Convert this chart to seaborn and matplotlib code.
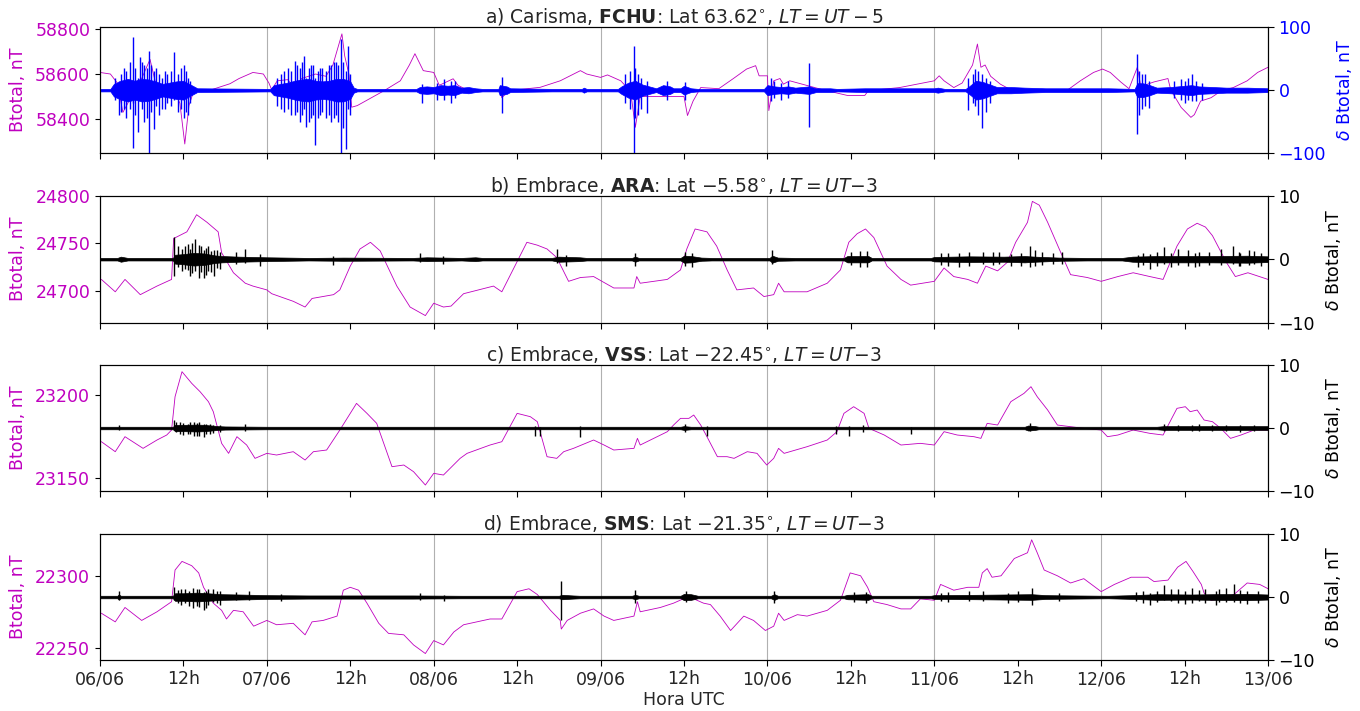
import numpy as np
import pandas as pd
import matplotlib
matplotlib.use("Agg")
import matplotlib.pyplot as plt
import matplotlib.dates as mdates
from matplotlib.ticker import FuncFormatter
import seaborn as sns

# ---------------- data (hours since 06/06 00:00 UTC) ----------------
fchu_h = [0, 1.5, 2.5, 3.3, 4, 5, 6, 7.2, 8, 9, 10.5, 11.5, 12.2, 12.8, 13.5, 16, 18.7, 20, 22, 23.5,
          24.3, 24.7, 25.5, 27, 28, 29, 31, 32.5, 33.5, 34.8, 35.2, 35.8, 36.2, 37, 40.8, 43.2, 44.5,
          45.3, 46.5, 48, 48.8, 50.8, 51.5, 53, 57.5, 57.8, 58.8, 63.3, 66.2, 69.1, 70, 72, 73, 74.9,
          75.8, 76.5, 77, 77.7, 81.6, 84, 84.5, 85.3, 86.4, 89, 91.1, 93, 94.3, 94.8, 96, 96.2, 96.9,
          97.8, 98.3, 99.2, 104, 107.5, 110, 110.5, 115, 120, 120.7, 121.4, 122.8, 124, 125.5, 126.2,
          126.7, 127.3, 128.1, 129.5, 131, 139.2, 141, 142.9, 144.2, 145.3, 146.8, 148, 149.2, 149.7,
          151.6, 153.6, 154, 155.5, 156.9, 157.4, 158.3, 159.8, 161.3, 163, 165, 166.5, 168]
fchu_bt = [58607, 58600, 58560, 58430, 58470, 58560, 58580, 58665, 58560, 58520, 58540, 58470, 58290,
           58460, 58526, 58530, 58557, 58580, 58607, 58600, 58560, 58530, 58570, 58575, 58540, 58580,
           58600, 58590, 58640, 58778, 58680, 58600, 58453, 58460, 58525, 58570, 58640, 58690, 58615,
           58607, 58550, 58579, 58550, 58526, 58526, 58495, 58526, 58541, 58570, 58615, 58600, 58585,
           58596, 58570, 58540, 58482, 58364, 58500, 58500, 58500, 58416, 58480, 58540, 58535, 58580,
           58622, 58637, 58592, 58592, 58438, 58570, 58580, 58555, 58570, 58530, 58505, 58505, 58526,
           58540, 58570, 58592, 58570, 58540, 58560, 58640, 58733, 58630, 58640, 58590, 58555, 58530,
           58530, 58570, 58607, 58622, 58607, 58565, 58535, 58630, 58545, 58565, 58580, 58530, 58452,
           58408, 58420, 58480, 58495, 58526, 58540, 58570, 58607, 58630]

ara_h = [0.2, 2.2, 3.6, 5.8, 8.2, 10.3, 10.6, 12.5, 13.9, 15.4, 17, 17.5, 19.2, 20.9, 22, 24, 24.7,
         27.8, 29.5, 30.5, 33.6, 34.5, 36, 37.4, 38.9, 40.3, 42.7, 44.6, 46.8, 48, 49.4, 50.5, 52.3,
         56.6, 57.8, 61.4, 62.9, 64.3, 65.7, 67.4, 69.1, 71, 72.2, 73.9, 76.8, 77.2, 77.7, 81.6, 83.5,
         84.4, 85.6, 87.3, 88.7, 90.2, 91.6, 94, 95.5, 96.9, 97.6, 98.4, 101.7, 104.6, 106.5, 107.7,
         108.9, 110.1, 111.3, 113.2, 115.2, 116.6, 120, 121.4, 122.8, 124.8, 126.2, 127.4, 129.1,
         130.5, 131.7, 133.4, 134.1, 135.1, 136.3, 138.2, 139.6, 142, 144, 146.4, 148.6, 151, 152.9,
         154.9, 156.4, 157.8, 159, 160, 162, 163.3, 165.1, 168]
ara_bt = [24712, 24699, 24712, 24696, 24705, 24712, 24755, 24762, 24780, 24772, 24762, 24740, 24719,
          24708, 24705, 24701, 24697, 24689, 24683, 24692, 24696, 24701, 24726, 24744, 24751, 24742,
          24705, 24683, 24674, 24687, 24683, 24684, 24697, 24705, 24699, 24751, 24748, 24744, 24735,
          24710, 24714, 24715, 24710, 24703, 24703, 24715, 24708, 24712, 24722, 24744, 24765, 24762,
          24747, 24722, 24701, 24703, 24694, 24696, 24708, 24699, 24699, 24708, 24722, 24751, 24760,
          24765, 24756, 24726, 24712, 24706, 24710, 24724, 24715, 24712, 24708, 24726, 24721, 24730,
          24751, 24772, 24794, 24790, 24772, 24740, 24717, 24714, 24710, 24715, 24719, 24715, 24712,
          24747, 24765, 24771, 24767, 24758, 24730, 24715, 24719, 24712]

vss_h = [0.2, 2.2, 3.6, 6.2, 8.2, 9.6, 10.3, 10.8, 11.8, 13.2, 14.4, 15.6, 16.3, 17.5, 18.5, 19.7,
         21.1, 22.3, 24, 25.4, 27.8, 29.5, 30.7, 32.6, 34.5, 36.9, 38.4, 39.8, 42, 43.7, 45.1, 46.8,
         48, 49.4, 51.8, 52.8, 56.1, 57.8, 60, 61.9, 62.9, 64.3, 65.7, 66.7, 68.1, 71, 72.5, 73.9,
         76.8, 77.3, 77.7, 81.6, 82.5, 83.5, 84.7, 85.4, 86.4, 87.3, 88.8, 90.2, 91.2, 93.1, 94.5,
         95.9, 96.9, 97.6, 98.4, 101.7, 104.6, 106, 107, 108.4, 109.9, 110.6, 112.8, 115.2, 118, 120,
         121.4, 123.3, 125.7, 126.7, 127.6, 129.1, 131, 132.9, 133.9, 134.8, 136.3, 137.7, 141.5, 144,
         144.9, 146.4, 148.6, 151, 152.9, 154.9, 156.1, 156.8, 157.8, 158.8, 160, 161.2, 162.6, 164.1,
         166, 168]
vss_bt = [23172, 23166, 23175, 23168, 23173, 23176, 23179, 23199, 23214, 23207, 23202, 23196, 23190,
          23171, 23165, 23175, 23170, 23162, 23165, 23164, 23166, 23161, 23166, 23167, 23179, 23195,
          23189, 23183, 23157, 23158, 23154, 23146, 23153, 23152, 23162, 23165, 23170, 23172, 23189,
          23187, 23184, 23163, 23162, 23166, 23168, 23173, 23170, 23167, 23168, 23174, 23170, 23178,
          23182, 23186, 23186, 23188, 23182, 23175, 23163, 23163, 23162, 23166, 23165, 23158, 23162,
          23168, 23165, 23169, 23173, 23178, 23189, 23193, 23189, 23180, 23176, 23170, 23171, 23170,
          23178, 23176, 23175, 23174, 23183, 23182, 23196, 23201, 23205, 23199, 23191, 23182, 23180,
          23179, 23175, 23176, 23179, 23177, 23176, 23192, 23193, 23190, 23191, 23185, 23184, 23180,
          23174, 23176, 23179, 23179]

sms_h = [0.2, 2.2, 3.6, 6, 8.2, 10.3, 10.8, 11.8, 13.2, 14.2, 14.9, 16.3, 17.5, 18.2, 19.2, 20.6,
         22.1, 24, 25.4, 27.8, 29.5, 30.5, 32.1, 34.1, 35, 36, 37.2, 38.4, 40.1, 41.5, 43.7, 45.1,
         46.8, 48, 49.4, 50.9, 52.3, 56.1, 57.8, 60, 61.7, 62.9, 64.8, 66.2, 66.35, 67.2, 69.1, 71,
         72.5, 73.9, 76.8, 77.3, 77.7, 80.6, 82.5, 83.9, 85.4, 86.8, 87.8, 89.2, 90.7, 92.6, 94, 95.7,
         96.9, 97.6, 98.4, 100.3, 101.7, 104.6, 106.5, 107.9, 109.4, 110.4, 111.3, 113.2, 115.2,
         116.6, 118, 120, 120.9, 122.8, 124.8, 126.4, 126.9, 127.6, 128.3, 129.6, 131.5, 133.4, 134,
         134.8, 135.8, 137.7, 139.6, 141.5, 144, 145.9, 148.3, 150.7, 151.6, 153.6, 155, 156.2, 157.2,
         158.4, 158.8, 159.8, 161.2, 163.1, 165, 166.8, 168]
sms_bt = [22274, 22268, 22278, 22269, 22275, 22282, 22304, 22310, 22307, 22302, 22292, 22281, 22276,
          22270, 22276, 22275, 22265, 22269, 22266, 22267, 22259, 22268, 22269, 22272, 22290, 22292,
          22290, 22281, 22267, 22260, 22259, 22252, 22246, 22255, 22252, 22261, 22266, 22270, 22270,
          22289, 22291, 22287, 22276, 22269, 22263, 22269, 22274, 22277, 22272, 22269, 22272, 22282,
          22275, 22278, 22281, 22284, 22284, 22281, 22280, 22272, 22262, 22272, 22269, 22262, 22265,
          22274, 22269, 22273, 22272, 22276, 22283, 22302, 22300, 22292, 22282, 22280, 22277, 22277,
          22284, 22283, 22294, 22290, 22292, 22292, 22302, 22305, 22299, 22300, 22312, 22316, 22325,
          22316, 22304, 22300, 22295, 22298, 22289, 22294, 22299, 22299, 22296, 22297, 22306, 22310,
          22303, 22294, 22288, 22283, 22284, 22287, 22295, 22294, 22291]

# delta-Btotal: amplitude envelope (hours, nT) and individual spikes (hour, max, min)
fchu_env_h = [0, 1.5, 2, 3, 4, 5, 6, 7, 8, 9, 10, 11, 12, 13, 14, 24.5, 25, 26, 27, 28, 29, 30, 31, 32,
              33, 34, 35, 36, 36.5, 37, 45.5, 46, 47, 48, 49, 50, 51, 52, 53, 54, 55, 57.3, 57.5, 58.5,
              59, 65, 69.3, 69.6, 70, 74.5, 75, 76, 77, 78, 79, 80, 81, 82, 82.5, 83.5, 84, 85, 86,
              95.5, 96, 97, 98, 99, 100, 101, 102, 103, 105, 106, 110, 120, 120.5, 121.5, 124.5, 125,
              126, 127, 128, 129, 131, 133, 136, 142, 145, 148.8, 149.2, 150, 151, 152, 154, 155, 157,
              158, 160, 162, 165, 168]
fchu_env = [2, 2, 10, 15, 18, 15, 18, 17, 14, 10, 12, 14, 15, 9, 3,
            2, 8, 10, 12, 15, 17, 18, 15, 14, 15, 18, 18, 14, 4, 2,
            2, 5, 6, 5, 8, 7, 8, 4, 5, 3, 2,
            2, 8, 6, 3, 2,
            2, 4, 2,
            2, 6, 12, 15, 9, 6, 3, 8, 6, 3, 3, 7, 3, 2,
            2, 8, 6, 5, 6, 4, 5, 6, 3, 3, 2, 3,
            3, 4, 2,
            2, 6, 15, 13, 9, 5, 5, 4, 3, 3, 3,
            2, 11, 11, 8, 4, 5, 6, 8, 6, 5, 4, 4, 3]
fchu_sp_h = [2.2, 2.8, 3.0, 3.5, 3.8, 4.3, 4.7, 4.8, 5.0, 5.5, 5.7, 6.0, 6.3, 6.7, 7.0, 7.1, 7.4, 7.8,
             8.1, 8.5, 8.9, 9.3, 9.7, 10.2, 10.6, 11.2, 11.7, 12.1, 12.4, 12.6, 13.0,
             25.5, 26.0, 26.5, 27.0, 27.5, 28.1, 28.4, 28.7, 29.0, 29.4, 29.6, 30.0, 30.3, 30.6, 30.9,
             31.3, 31.6, 32.0, 32.5, 32.9, 33.3, 33.6, 34.0, 34.3, 34.6, 35.0, 35.4, 35.7, 36.0,
             46.3, 48.5, 49.5, 50.5, 51.0, 57.8, 75.5, 76.2, 76.8, 77.0, 77.4, 77.8, 78.7, 81.6, 84.2,
             96.5, 97.0, 98.0, 99.0, 102, 124.8, 125.5, 125.9, 126.3, 126.9, 127.5, 128.0, 149.2,
             149.5, 149.8, 150.3, 150.9, 154.5, 155.5, 156.0, 156.5, 157.1, 157.7, 158.5]
fchu_sp_hi = [20, 15, 25, 35, 30, 45, 10, 84, 35, 20, 52, 45, 40, 35, 63, 10, 40, 30,
              35, 25, 20, 30, 25, 30, 60, 25, 35, 40, 30, 20, 15,
              20, 25, 30, 35, 30, 47, 40, 35, 45, 55, 20, 35, 40, 40, 20,
              30, 35, 35, 30, 40, 40, 45, 45, 40, 82, 45, 30, 70, 25,
              10, 12, 18, 15, 15, 21, 25, 30, 71, 35, 25, 20, 15, 15, 13,
              20, 15, 12, 14, 43, 19, 25, 33, 30, 25, 20, 15, 58,
              30, 25, 25, 15, 15, 18, 15, 20, 26, 15, 12]
fchu_sp_lo = [-15, -40, -35, -30, -45, -30, -92, -20, -40, -66, -10, -30, -50, -45, -10, -100, -35, -62,
              -25, -40, -30, -30, -20, -25, -15, -35, -30, -45, -35, -40, -20,
              -25, -30, -35, -30, -40, -40, -35, -50, -40, -30, -58, -50, -45, -40, -87,
              -45, -40, -35, -45, -40, -50, -45, -40, -50, -100, -60, -93, -30, -40,
              -21, -15, -15, -20, -12, -37, -20, -30, -100, -45, -40, -30, -37, -15, -15,
              -18, -12, -15, -12, -58, -32, -20, -26, -40, -61, -35, -20, -69,
              -40, -30, -25, -28, -12, -15, -20, -15, -17, -18, -15]

ara_env_h = [0, 2.5, 3, 4, 10.5, 10.8, 12, 13.5, 15, 16.5, 17.5, 20, 24, 27, 30, 35, 45, 47, 52, 54,
             55, 65, 66, 69, 70, 76.5, 77, 77.5, 83.5, 84, 85, 86.5, 88, 96.3, 96.7, 97.5, 100, 107,
             107.5, 110.5, 111, 119.5, 120, 125, 130, 133, 134.5, 138, 142, 147, 148.5, 152, 160, 165,
             168]
ara_env = [0.2, 0.2, 0.4, 0.2, 0.2, 0.7, 0.8, 1.0, 0.9, 0.6, 0.5, 0.4, 0.3, 0.25, 0.2, 0.25, 0.2, 0.3,
           0.2, 0.3, 0.2, 0.2, 0.4, 0.3, 0.2, 0.2, 0.4, 0.2, 0.2, 0.55, 0.5, 0.25, 0.2, 0.2, 0.55,
           0.25, 0.2, 0.2, 0.5, 0.5, 0.2, 0.2, 0.35, 0.45, 0.4, 0.5, 0.4, 0.25, 0.2, 0.2, 0.4, 0.5,
           0.5, 0.55, 0.45]
ara_sp_h = [10.6, 11.2, 11.8, 12.2, 12.6, 13.0, 13.3, 13.7, 14.2, 14.5, 14.9, 15.2, 15.6, 15.9, 16.4,
            16.8, 17.2, 19.5, 20.9, 23, 33.5, 46, 49.4, 65.7, 67, 76.9, 84.2, 85.2, 96.7, 108, 109.3,
            110.3, 121, 122, 123.5, 125, 127, 128.5, 129.3, 131, 132.5, 133.8, 134.5, 135.5, 137,
            138.3, 149.3, 150, 151, 152, 153, 154, 155, 156.5, 157.5, 158, 159.5, 161.2, 162.9,
            163.8, 164, 165.2, 166, 167]
ara_sp_hi = [3.5, 2.0, 1.6, 2.0, 2.4, 1.6, 2.5, 3.2, 2.2, 2.0, 1.5, 1.8, 2.1, 1.3, 1.5,
             1.4, 1.2, 1.2, 1.6, 0.8, 0.5, 1.0, 0.5, 1.6, 0.7, 1.0, 1.2, 1.0, 1.4, 1.2, 1.3,
             1.3, 1.0, 1.0, 0.9, 1.2, 1.1, 1.2, 1.1, 0.8, 1.0, 2.1, 1.5, 1.1, 0.9,
             1.1, 0.7, 1.0, 0.8, 1.2, 1.9, 1.0, 1.6, 1.4, 1.0, 1.2, 1.1, 1.6, 2.1,
             1.2, 1.0, 1.5, 1.3, 1.0]
ara_sp_lo = [-2.7, -1.2, -1.9, -1.5, -1.7, -2.6, -2.2, -1.8, -2.9, -2.0, -2.9, -2.5, -1.8, -2.0, -2.7,
             -1.4, -1.5, -0.8, -0.6, -1.0, -0.9, -0.5, -0.8, -0.6, -1.0, -1.1, -1.0, -1.2, -0.8, -0.9,
             -1.3, -1.2, -0.9, -1.1, -1.2, -1.0, -0.8, -0.9, -0.7, -1.0, -1.1, -1.3, -1.0, -0.9, -0.7,
             -0.8, -1.2, -0.9, -1.6, -1.0, -0.8, -1.3, -0.9, -1.0, -1.2, -1.0, -0.9, -0.9, -0.7,
             -1.0, -1.1, -0.9, -0.8, -1.0]

vss_env_h = [0, 10.5, 10.8, 12, 14, 15, 17, 18, 24, 83.5, 84, 85, 133, 133.5, 134.5, 135, 152, 153,
             168]
vss_env = [0.2, 0.2, 0.5, 0.5, 0.55, 0.5, 0.3, 0.25, 0.2, 0.2, 0.3, 0.2, 0.2, 0.4, 0.3, 0.2, 0.2, 0.3,
           0.3]
vss_sp_h = [2.7, 10.6, 11.0, 11.5, 12.0, 12.6, 13.0, 13.5, 14.0, 14.3, 14.9, 15.3, 15.8, 16.3, 17.2,
            20.9, 62.6, 63.3, 69.1, 84.2, 87.3, 105.8, 107.7, 109.8, 116.6, 133.8, 153, 155, 157,
            158, 160, 162, 164, 166]
vss_sp_hi = [0.5, 1.3, 1.0, 0.9, 0.8, 0.7, 1.0, 0.9, 0.8, 1.0, 0.6, 0.7, 0.6, 0.5, 0.5,
             0.6, 0.3, 0.2, 0.3, 0.6, 0.3, 0.3, 0.3, 0.5, 0.2, 0.8, 0.6, 0.5, 0.5,
             0.6, 0.5, 0.5, 0.5, 0.5]
vss_sp_lo = [-0.3, -0.3, -0.6, -0.9, -1.1, -1.0, -0.9, -1.3, -1.2, -1.2, -1.5, -1.0, -1.0, -0.8, -0.7,
             -0.4, -1.2, -1.3, -1.4, -0.6, -1.2, -1.0, -1.2, -0.6, -1.0, -0.5, -0.4, -0.5, -0.4,
             -0.5, -0.5, -0.5, -0.6, -0.5]

sms_env_h = [0, 2.5, 2.7, 3, 10.5, 10.8, 12, 14, 15.5, 17.5, 20, 24, 30, 45, 52, 66, 66.5, 68, 69,
             76.5, 77, 77.5, 83.5, 84, 85, 86, 96.5, 97, 97.5, 107, 107.5, 110.5, 111, 119.5, 120,
             126, 134, 136, 140, 145, 148.5, 152, 157, 160, 165, 168]
sms_env = [0.2, 0.2, 0.4, 0.2, 0.2, 0.6, 0.6, 0.7, 0.6, 0.45, 0.4, 0.3, 0.25, 0.25, 0.2, 0.2, 0.35,
           0.25, 0.2, 0.2, 0.35, 0.2, 0.2, 0.5, 0.45, 0.2, 0.2, 0.45, 0.2, 0.2, 0.35, 0.45, 0.2, 0.2,
           0.3, 0.35, 0.45, 0.3, 0.25, 0.2, 0.3, 0.45, 0.4, 0.45, 0.5, 0.4]
sms_sp_h = [2.7, 10.6, 11.2, 11.7, 12.2, 12.8, 13.4, 13.9, 14.3, 14.9, 15.2, 15.6, 16.3, 16.8, 17.3,
            19.5, 21.5, 26, 46, 49.5, 66.3, 76.9, 84.3, 96.9, 108.5, 110.2, 121, 122, 125, 127,
            130.6, 132, 134, 138, 149, 150, 151, 152, 153, 154, 155, 156, 157, 158, 159, 160.5, 161,
            162, 163.1, 164, 165, 166.5]
sms_sp_hi = [0.9, 1.6, 1.1, 1.2, 1.3, 1.0, 1.5, 1.2, 1.3, 0.8, 1.0, 1.2, 1.2, 0.9, 1.0,
             0.8, 0.9, 0.5, 0.6, 0.4, 2.6, 1.1, 0.9, 0.9, 0.8, 0.8, 0.7, 0.8, 0.9, 0.9,
             0.7, 1.0, 1.4, 0.6, 0.8, 0.9, 0.6, 1.0, 1.9, 1.3, 1.2, 1.0, 1.5, 1.1, 1.2, 1.0, 1.3,
             1.4, 2.0, 1.1, 1.0, 1.0]
sms_sp_lo = [-0.5, -0.5, -0.9, -1.2, -1.0, -1.5, -1.8, -1.5, -1.6, -2.1, -1.8, -1.3, -0.8, -1.0, -1.2,
             -0.5, -0.4, -0.7, -0.4, -0.7, -3.7, -0.9, -0.8, -0.9, -0.8, -1.0, -0.6, -0.8, -0.7, -0.7,
             -0.9, -0.8, -1.3, -0.7, -0.7, -0.9, -1.3, -0.8, -0.5, -0.7, -0.9, -1.1, -1.0, -0.7, -0.9,
             -1.2, -0.8, -0.8, -0.8, -0.9, -1.1, -1.0]

titles = [r"a) Carisma, $\bf{FCHU}$: Lat 63.62$^{\circ}$, $LT=UT-5$",
          r"b) Embrace, $\bf{ARA}$: Lat $-5.58^{\circ}$, $LT=UT$$-3$",
          r"c) Embrace, $\bf{VSS}$: Lat $-22.45^{\circ}$, $LT=UT$$-3$",
          r"d) Embrace, $\bf{SMS}$: Lat $-21.35^{\circ}$, $LT=UT$$-3$"]
left_ticks = [[58400, 58600, 58800], [24700, 24750, 24800], [23150, 23200], [22250, 22300]]
left_lims = [(58250, 58807), (24666.5, 24800), (23142.4, 23218), (22241.5, 22329)]
right_ticks = [[-100, 0, 100], [-10, 0, 10], [-10, 0, 10], [-10, 0, 10]]
right_lims = [(-100, 100), (-10, 10), (-10, 10), (-10, 10)]

# ---------------- plotting ----------------
sns.set_style("ticks")
plt.rcParams["font.family"] = ["DejaVu Sans"]
plt.rcParams["mathtext.fontset"] = "dejavusans"

base = pd.Timestamp("2023-06-06")


def to_time(hours):
    return base + pd.to_timedelta(np.asarray(hours, dtype=float), unit="h")


fig = plt.figure(figsize=(13.6, 7.11), dpi=100)
rects = [[0.0735, 0.7848, 0.8589, 0.1768],
         [0.0735, 0.5461, 0.8589, 0.1787],
         [0.0735, 0.3094, 0.8589, 0.1772],
         [0.0735, 0.0717, 0.8589, 0.1772]]

mag = "m"
series = [
    (fchu_h, fchu_bt, fchu_env_h, fchu_env, fchu_sp_h, fchu_sp_hi, fchu_sp_lo, "#0000ff"),
    (ara_h, ara_bt, ara_env_h, ara_env, ara_sp_h, ara_sp_hi, ara_sp_lo, "black"),
    (vss_h, vss_bt, vss_env_h, vss_env, vss_sp_h, vss_sp_hi, vss_sp_lo, "black"),
    (sms_h, sms_bt, sms_env_h, sms_env, sms_sp_h, sms_sp_hi, sms_sp_lo, "black"),
]

FS = 12.5
for i, (h, bt, eh, ea, sh, shi, slo, dcol) in enumerate(series):
    ax = fig.add_axes(rects[i])
    df = pd.DataFrame({"t": to_time(h), "bt": bt})
    sns.lineplot(data=df, x="t", y="bt", ax=ax, color=mag, linewidth=0.6, estimator=None)
    ax.set_ylim(*left_lims[i])
    ax.set_yticks(left_ticks[i])
    ax.set_xlim(base, base + pd.Timedelta(days=7))
    ax.set_ylabel("Btotal, nT", color=mag, fontsize=FS, labelpad=6)
    ax.tick_params(axis="y", colors=mag, labelsize=FS)
    ax.tick_params(axis="y", color="black")
    ax.xaxis.set_major_locator(mdates.DayLocator())
    ax.xaxis.set_major_formatter(mdates.DateFormatter("%d/%m"))
    ax.xaxis.set_minor_locator(mdates.HourLocator(byhour=[12]))
    ax.xaxis.set_minor_formatter(FuncFormatter(lambda v, p: "12h"))
    ax.tick_params(axis="x", which="both", labelsize=FS, length=4, width=0.8, color="black")
    ax.grid(True, axis="x", which="major", color="#b0b0b0", linewidth=0.8)
    ax.set_xlabel("")
    for sp in ax.spines.values():
        sp.set_color("black")

    ax2 = ax.twinx()
    et = to_time(eh)
    ea = np.asarray(ea)
    ax2.fill_between(et, -ea, ea, color=dcol, linewidth=0.5)
    ax2.vlines(to_time(sh), slo, shi, color=dcol, linewidth=1.0)
    ax2.set_ylim(*right_lims[i])
    ax2.set_yticks(right_ticks[i])
    rcol = "#0000ff" if i == 0 else "black"
    ax2.set_ylabel(r"$\delta$ Btotal, nT", color=rcol, fontsize=FS, labelpad=6)
    ax2.tick_params(axis="y", colors=rcol, labelsize=FS, length=4)
    ax2.tick_params(axis="y", color="black")
    for sp in ax2.spines.values():
        sp.set_color("black")
    ax2.set_xlim(base, base + pd.Timedelta(days=7))
    ax.set_title(titles[i], fontsize=13.5, pad=2)

    if i < 3:
        ax.tick_params(axis="x", which="both", labelbottom=False)
    else:
        ax.set_xlabel("Hora UTC", fontsize=FS, labelpad=2)

fig.savefig("out.png", dpi=100)
